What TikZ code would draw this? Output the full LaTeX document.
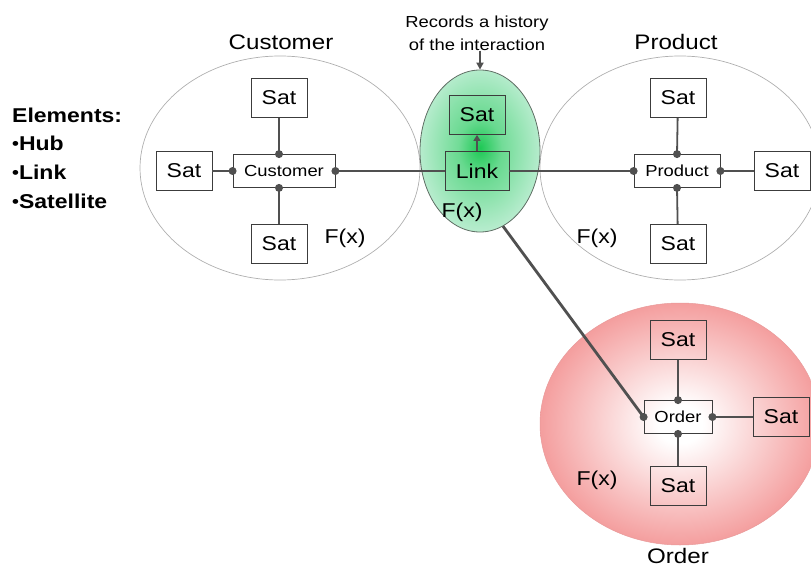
\documentclass[tikz,border=0pt]{standalone}
\usepackage{fontspec}
\setmainfont{Liberation Sans}
\usetikzlibrary{shapes.geometric,arrows.meta,calc}

\definecolor{wire}{RGB}{80,80,80}
\definecolor{boxline}{RGB}{60,60,60}
\definecolor{rim}{RGB}{175,175,175}
\definecolor{linkrim}{RGB}{95,110,100}
\definecolor{linkcore}{RGB}{30,200,85}
\definecolor{linkedge}{RGB}{182,236,205}
\definecolor{orderedge}{RGB}{244,158,158}

% radial fills for the link and order zones
\pgfdeclareradialshading{linkglow}{\pgfpoint{0bp}{1bp}}{%
  color(0bp)=(linkcore); color(9bp)=(linkcore!45!linkedge);
  color(25bp)=(linkedge); color(50bp)=(linkedge)}
\pgfdeclareradialshading{orderglow}{\pgfpoint{0bp}{0bp}}{%
  color(0bp)=(white); color(4bp)=(white);
  color(25bp)=(orderedge); color(50bp)=(orderedge)}

\pgfdeclarelayer{hubzone}
\pgfdeclarelayer{tether}
\pgfdeclarelayer{linkzone}
\pgfsetlayers{hubzone,tether,linkzone,main}

% slightly widened lettering
\newcommand\wide[1]{\scalebox{1.15}[1]{#1}}
% small raised list bullet
\newcommand\dotmark{\raisebox{0.3pt}{\fontsize{17}{17}\selectfont •}}

\tikzset{
  satbox/.style={draw=boxline, line width=0.8pt, minimum width=56pt,
    minimum height=39pt, inner sep=0pt, font=\fontsize{20}{20}\selectfont},
  hubbox/.style={draw=boxline, line width=0.8pt, minimum height=33pt,
    inner sep=0pt, font=\fontsize{16}{16}\selectfont},
  zone/.style={ellipse, inner sep=0pt},
  plainzone/.style={zone, draw=rim, line width=0.7pt},
  tie/.style={draw=wire, line width=1.8pt},
  knob/.style={fill=wire},
  title/.style={inner sep=0pt, font=\fontsize{21}{21}\selectfont},
  fx/.style={inner sep=0pt, font=\fontsize{20}{20}\selectfont},
  legend/.style={anchor=west, inner sep=0pt, font=\bfseries\fontsize{20}{20}\selectfont},
}

\begin{document}
\begin{tikzpicture}[x=1pt,y=-1pt]
\useasboundingbox (0,0) rectangle (811,567);

% ---------- legend ----------
\node[legend] (el0) at (12,115) {\wide{Elements:}};
\node[legend] (el1) at (12,143) {\wide{\dotmark Hub}};
\node[legend] (el2) at (12,172) {\wide{\dotmark Link}};
\node[legend] (el3) at (12,201) {\wide{\dotmark Satellite}};

% ---------- zones ----------
\begin{pgfonlayer}{hubzone}
  \node[plainzone, minimum width=280pt, minimum height=224pt] (custzone) at (280,168) {};
  \node[plainzone, minimum width=280pt, minimum height=224pt] (prodzone) at (680,168) {};
  \node[zone, shading=orderglow, draw=orderedge!90!gray, line width=0.5pt,
        minimum width=280pt, minimum height=242pt] (ordzone) at (680,424) {};
\end{pgfonlayer}
\begin{pgfonlayer}{linkzone}
  \node[zone, shading=linkglow, draw=linkrim, line width=0.8pt,
        minimum width=120pt, minimum height=162pt] (linkzone) at (480,151) {};
\end{pgfonlayer}

% ---------- zone titles ----------
\node[title] (custtitle) at (281,42) {\wide{Customer}};
\node[title] (prodtitle) at (676,42) {\wide{Product}};
\node[title] (ordtitle) at (678,556) {\wide{Order}};
\node[align=center, inner sep=0pt, font=\fontsize{16}{23}\selectfont] (note) at (477,33)
  {\wide{Records a history}\\\wide{of the interaction}};

\node[fx] (fx1) at (345,238) {\wide{F(x)}};
\node[fx] (fx2) at (462,212) {\wide{F(x)}};
\node[fx] (fx3) at (597,238) {\wide{F(x)}};
\node[fx] (fx4) at (597,480) {\wide{F(x)}};

% ---------- customer hub ----------
\node[hubbox, minimum width=102pt] (cust) at (284,171) {\wide{Customer}};
\node[satbox] (custN) at (279,98) {\wide{Sat}};
\node[satbox] (custW) at (184,171) {\wide{Sat}};
\node[satbox] (custS) at (279,244) {\wide{Sat}};

% ---------- link ----------
\node[hubbox, minimum width=64pt, minimum height=39pt, font=\fontsize{20}{20}\selectfont,
      fill=linkcore, fill opacity=0.1, text opacity=1] (link) at (477,171) {\wide{Link}};
\node[satbox, fill=linkcore, fill opacity=0.1, text opacity=1] (linksat) at (477,115) {\wide{Sat}};

% ---------- product hub ----------
\node[hubbox, minimum width=86pt] (prod) at (677,171) {\wide{Product}};
\node[satbox] (prodN) at (678,98) {\wide{Sat}};
\node[satbox] (prodE) at (782,171) {\wide{Sat}};
\node[satbox] (prodS) at (678,244) {\wide{Sat}};

% ---------- order hub ----------
\node[hubbox, minimum width=68pt] (ord) at (678,417) {\wide{Order}};
\node[satbox] (ordN) at (678,340) {\wide{Sat}};
\node[satbox] (ordE) at (781,417) {\wide{Sat}};
\node[satbox] (ordS) at (678,486) {\wide{Sat}};

% ---------- connectors ----------
\coordinate (cn) at (custN.south |- cust.north);
\coordinate (cs) at (custS.north |- cust.south);
\draw[tie] (custN) -- (cn);
\draw[tie] (custS) -- (cs);
\draw[tie] (custW) -- (cust.west);
\draw[tie] (cust.east) -- (link.west);
\foreach \p in {cn,cs,cust.west,cust.east} \fill[knob] (\p) circle (4pt);

\draw[tie] (link.east) -- (prod.west);
\draw[tie] (prodN) -- (prod.north);
\draw[tie] (prodS) -- (prod.south);
\draw[tie] (prodE) -- (prod.east);
\foreach \p in {prod.west,prod.north,prod.south,prod.east} \fill[knob] (\p) circle (4pt);

\begin{pgfonlayer}{tether}
  \draw[draw=wire, line width=2.8pt] (link.south) -- (ord.west);
\end{pgfonlayer}
\draw[tie] (ordN) -- (ord.north);
\draw[tie] (ordS) -- (ord.south);
\draw[tie] (ordE) -- (ord.east);
\foreach \p in {ord.west,ord.north,ord.south,ord.east} \fill[knob] (\p) circle (4pt);

\draw[tie, -{Triangle[length=6pt,width=7pt]}] (link.north) -- (linksat.south);
\draw[tie, -{Triangle[length=7pt,width=7pt]}] (linkzone.north |- note.south) -- (linkzone.north);
\end{tikzpicture}
\end{document}
